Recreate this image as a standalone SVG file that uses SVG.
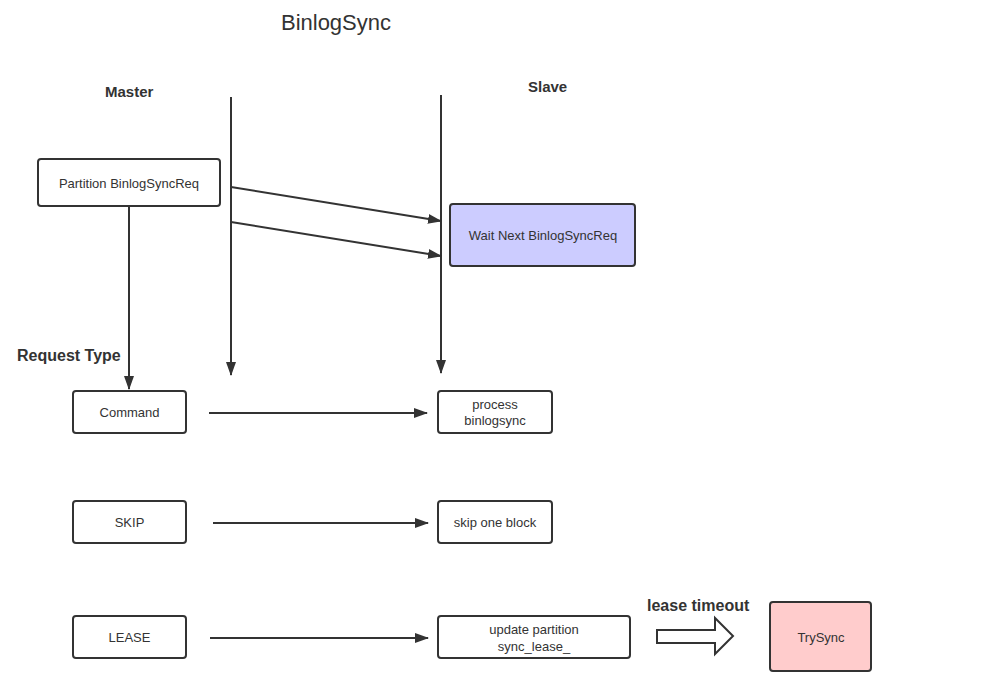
<svg xmlns="http://www.w3.org/2000/svg" width="991" height="699" viewBox="0 0 991 699">
<style>
.box{fill:#fff;stroke:#333;stroke-width:2}
.t{font-family:"Liberation Sans",Arial,sans-serif;font-size:13px;fill:#333;text-anchor:middle}
.h{font-family:"Liberation Sans",Arial,sans-serif;font-size:16px;font-weight:bold;fill:#333}
.ln{stroke:#333;stroke-width:2;fill:none}
</style>
<defs>
<marker id="arv" markerWidth="14" markerHeight="14" refX="13" refY="5" orient="auto" markerUnits="userSpaceOnUse" viewBox="0 0 14 10">
<path d="M0,0 L14,5 L0,10 Z" fill="#333"/>
</marker>
</defs>
<rect width="991" height="699" fill="#fff"/>
<text x="336" y="30" font-family="Liberation Sans,Arial,sans-serif" font-size="22" fill="#333" text-anchor="middle">BinlogSync</text>
<text class="h" x="105" y="97" style="font-size:15px">Master</text>
<text class="h" x="528" y="92" style="font-size:15px">Slave</text>
<text class="h" x="17" y="361">Request Type</text>
<text class="h" x="647" y="611">lease timeout</text>
<g id="connectors">
<line class="ln" x1="231" y1="97" x2="231" y2="375" marker-end="url(#arv)"/>
<line class="ln" x1="441" y1="95" x2="441" y2="373" marker-end="url(#arv)"/>
<line class="ln" x1="129" y1="206" x2="129" y2="389" marker-end="url(#arv)"/>
<line class="ln" x1="231" y1="187" x2="441" y2="221" marker-end="url(#arv)"/>
<line class="ln" x1="231" y1="222" x2="441" y2="256" marker-end="url(#arv)"/>
<line class="ln" x1="209" y1="413" x2="427" y2="413" marker-end="url(#arv)"/>
<line class="ln" x1="213" y1="523" x2="428" y2="523" marker-end="url(#arv)"/>
<line class="ln" x1="210" y1="638" x2="428" y2="638" marker-end="url(#arv)"/>
<path d="M657,630 L715,630 L715,618 L733,636 L715,654 L715,643 L657,643 Z" fill="#fff" stroke="#333" stroke-width="2"/>
</g>
<g id="partition"><rect class="box" x="38" y="159" width="182" height="47" rx="3"/><text class="t" x="129" y="188">Partition BinlogSyncReq</text></g>
<g id="wait"><rect class="box" x="450" y="204" width="185" height="62" rx="3" style="fill:#ccccff"/><text class="t" x="543" y="240">Wait Next BinlogSyncReq</text></g>
<g id="command"><rect class="box" x="73" y="391" width="113" height="42" rx="3"/><text class="t" x="129.5" y="417">Command</text></g>
<g id="process"><rect class="box" x="438" y="391" width="114" height="42" rx="3"/><text class="t" x="495" y="409">process</text><text class="t" x="495" y="425">binlogsync</text></g>
<g id="skip"><rect class="box" x="73" y="501" width="113" height="42" rx="3"/><text class="t" x="129.5" y="527">SKIP</text></g>
<g id="skipblock"><rect class="box" x="438" y="501" width="114" height="42" rx="3"/><text class="t" x="495" y="527">skip one block</text></g>
<g id="lease"><rect class="box" x="73" y="616" width="113" height="42" rx="3"/><text class="t" x="129.5" y="642">LEASE</text></g>
<g id="update"><rect class="box" x="438" y="616" width="192" height="42" rx="3"/><text class="t" x="534" y="634">update partition</text><text class="t" x="534" y="651">sync_lease_</text></g>
<g id="trysync"><rect class="box" x="770" y="602" width="101" height="69" rx="3" style="fill:#ffcccc"/><text class="t" x="821" y="642">TrySync</text></g>
</svg>
